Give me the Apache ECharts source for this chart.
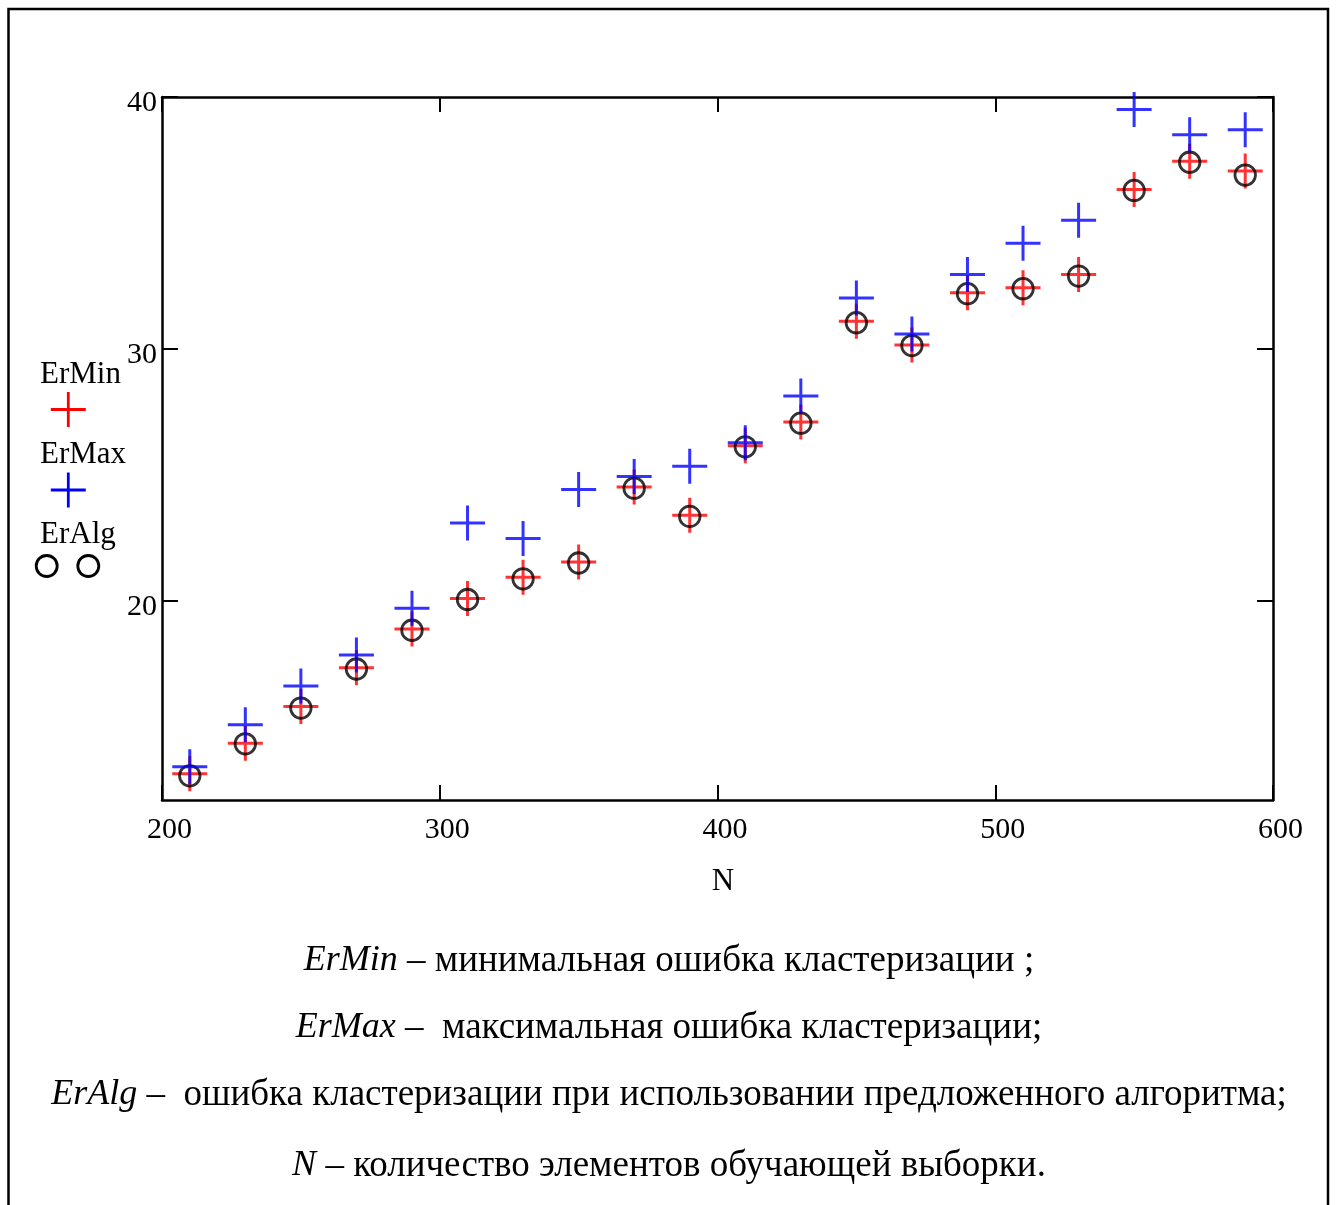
<!DOCTYPE html>
<html>
<head>
<meta http-equiv="Content-Type" content="text/html; charset=UTF-8">
<title>ErMin / ErMax / ErAlg</title>
<script src="https://cdn.jsdelivr.net/npm/echarts@6/dist/echarts.min.js"></script>
<style>
	body { margin: 0; background: #fff; }
	#errDiv { width: 1337px; height: 1205px; }
</style>
</head>
<body>
	<div id="errDiv"></div>
	<script type="text/javascript">
		// N - number of training sample elements
		var nValues = [ 210, 230, 250, 270, 290, 310, 330, 350, 370, 390,
				410, 430, 450, 470, 490, 510, 530, 550, 570, 590 ];
		var erMin = [ 13.13, 14.34, 15.80, 17.34, 18.88, 20.09, 20.93, 21.54,
				24.52, 23.39, 26.15, 27.10, 31.10, 30.15, 32.23, 32.43, 32.95,
				36.33, 37.45, 37.06 ];
		var erMax = [ 13.41, 15.08, 16.62, 17.85, 19.70, 23.09, 22.47, 24.42,
				24.93, 25.34, 26.27, 28.13, 32.02, 30.59, 32.95, 34.19, 35.11,
				39.50, 38.50, 38.70 ];
		var erAlg = [ 13.05, 14.32, 15.74, 17.29, 18.83, 20.05, 20.87, 21.50,
				24.47, 23.35, 26.11, 27.05, 31.04, 30.13, 32.19, 32.39, 32.89,
				36.29, 37.41, 36.90 ];
		var yTicks = [ 20, 30, 40 ];
		var captionLines = [
				[ 'ErMin', ' – минимальная ошибка кластеризации ;' ],
				[ 'ErMax', ' –  максимальная ошибка кластеризации;' ],
				[ 'ErAlg', ' –  ошибка кластеризации при использовании предложенного алгоритма;' ],
				[ 'N', ' – количество элементов обучающей выборки.' ] ];

		var serif = '"Liberation Serif", "Times New Roman", serif';
		var crossPath = 'path://M0,-1L0,1M-1,0L1,0';

		function pairs(ys) {
			var out = [];
			for (var i = 0; i < nValues.length; i++) {
				out.push([ nValues[i], ys[i] ]);
			}
			return out;
		}

		function legendCross(cx, cy, color) {
			return {
				type : 'group',
				children : [ {
					type : 'line',
					shape : { x1 : cx - 17.5, y1 : cy, x2 : cx + 17.5, y2 : cy },
					style : { stroke : color, lineWidth : 2.8 }
				}, {
					type : 'line',
					shape : { x1 : cx, y1 : cy - 17.5, x2 : cx, y2 : cy + 17.5 },
					style : { stroke : color, lineWidth : 2.8 }
				} ]
			};
		}

		function legendText(x, y, txt) {
			return {
				type : 'text',
				style : {
					x : x, y : y, text : txt,
					font : '31px ' + serif,
					fill : '#000',
					verticalAlign : 'middle'
				}
			};
		}

		var captionY = [ 961, 1028, 1095, 1166 ];
		var captions = [];
		for (var k = 0; k < captionLines.length; k++) {
			captions.push({
				type : 'text',
				style : {
					x : 669,
					y : captionY[k],
					text : '{i|' + captionLines[k][0] + '}{n|' + captionLines[k][1] + '}',
					align : 'center',
					verticalAlign : 'middle',
					font : '37px ' + serif,
					fill : '#000',
					rich : {
						i : { fontStyle : 'italic', fontSize : 36, fontFamily : serif, fill : '#000' },
						n : { fontSize : 37, fontFamily : serif, fill : '#000' }
					}
				}
			});
		}

		var errChart = echarts.init(document.getElementById('errDiv'));

		errChart.setOption({
			animation : false,
			backgroundColor : '#fff',
			textStyle : { fontFamily : serif },
			grid : {
				left : 162,
				top : 97,
				width : 1111,
				height : 703,
				containLabel : false
			},
			xAxis : [ {
				type : 'value',
				position : 'bottom',
				min : 200,
				max : 600,
				interval : 100,
				name : 'N',
				nameLocation : 'middle',
				nameGap : 66,
				nameTextStyle : {
					fontSize : 31, color : '#000', fontFamily : serif,
					padding : [ 0, 0, 0, 11 ]
				},
				splitLine : { show : false },
				axisLine : { onZero : false, lineStyle : { color : '#000', width : 2.5 } },
				axisTick : { inside : true, length : 15, lineStyle : { color : '#000', width : 2 } },
				axisLabel : {
					margin : 15,
					fontSize : 30,
					color : '#000',
					fontFamily : serif,
					padding : [ 0, 0, 0, 15 ],
					showMinLabel : true,
					showMaxLabel : true
				}
			}, {
				type : 'value',
				position : 'top',
				min : 200,
				max : 600,
				interval : 100,
				splitLine : { show : false },
				axisLine : { onZero : false, lineStyle : { color : '#000', width : 2.5 } },
				axisTick : { inside : true, length : 15, lineStyle : { color : '#000', width : 2 } },
				axisLabel : { show : false }
			} ],
			yAxis : [ {
				type : 'value',
				position : 'left',
				min : 12.09,
				max : 40,
				splitLine : { show : false },
				axisLine : { onZero : false, lineStyle : { color : '#000', width : 2.5 } },
				axisTick : {
					inside : true, length : 16,
					customValues : yTicks,
					lineStyle : { color : '#000', width : 2 }
				},
				axisLabel : {
					customValues : yTicks,
					margin : 5,
					fontSize : 30,
					color : '#000',
					fontFamily : serif,
					verticalAlign : 'top',
					lineHeight : 13,
					showMinLabel : true,
					showMaxLabel : true
				}
			}, {
				type : 'value',
				position : 'right',
				min : 12.09,
				max : 40,
				splitLine : { show : false },
				axisLine : { onZero : false, lineStyle : { color : '#000', width : 2.5 } },
				axisTick : {
					inside : true, length : 16,
					customValues : yTicks,
					lineStyle : { color : '#000', width : 2 }
				},
				axisLabel : { show : false }
			} ],
			series : [ {
				name : 'ErMin',
				type : 'scatter',
				z : 2,
				symbol : crossPath,
				symbolSize : 35,
				itemStyle : {
					color : 'rgba(0,0,0,0)',
					borderColor : '#ff0000',
					borderWidth : 3
				},
				emphasis : { disabled : true },
				data : pairs(erMin)
			}, {
				name : 'ErAlg',
				type : 'scatter',
				z : 3,
				symbol : 'circle',
				symbolSize : 20.5,
				itemStyle : {
					color : 'rgba(0,0,0,0)',
					borderColor : '#000',
					borderWidth : 2.8
				},
				emphasis : { disabled : true },
				data : pairs(erAlg)
			}, {
				name : 'ErMax',
				type : 'scatter',
				z : 4,
				symbol : crossPath,
				symbolSize : 35,
				itemStyle : {
					color : 'rgba(0,0,0,0)',
					borderColor : '#0000ff',
					borderWidth : 3
				},
				emphasis : { disabled : true },
				data : pairs(erMax)
			} ],
			graphic : [ {
				// outer frame of the figure
				type : 'rect',
				shape : { x : 8.5, y : 9, width : 1319.5, height : 1300 },
				style : { fill : 'none', stroke : '#000', lineWidth : 2.5 },
				silent : true
			},
			legendText(40, 375, 'ErMin'),
			legendCross(68.3, 409.5, '#ff0000'),
			legendText(40, 455, 'ErMax'),
			legendCross(68.3, 490, '#0000ff'),
			legendText(40, 535, 'ErAlg'), {
				type : 'circle',
				shape : { cx : 46.7, cy : 566, r : 10.5 },
				style : { fill : 'none', stroke : '#000', lineWidth : 2.8 }
			}, {
				type : 'circle',
				shape : { cx : 88.3, cy : 566, r : 10.5 },
				style : { fill : 'none', stroke : '#000', lineWidth : 2.8 }
			} ].concat(captions)
		});
	</script>
</body>
</html>
